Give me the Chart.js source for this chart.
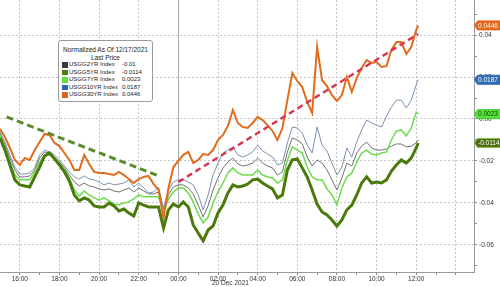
<!DOCTYPE html>
<html><head><meta charset="utf-8">
<script src="https://cdn.jsdelivr.net/npm/chart.js@4.4.0/dist/chart.umd.min.js"></script>
<style>
html,body{margin:0;padding:0;background:#fff;}
#wrap{position:relative;width:500px;height:287px;overflow:hidden;font-family:"Liberation Sans",Arial,sans-serif;}
canvas{position:absolute;left:0;top:0;}
#legend{position:absolute;left:58px;top:40px;width:95px;height:62px;box-sizing:border-box;border:1px solid #9a9a9a;border-radius:3px;background:#fff;font-size:6.5px;color:#222;padding-top:5px;line-height:7.5px;}
#legend .t{text-align:center;white-space:nowrap;}
#legend .row{position:relative;height:7.5px;white-space:nowrap;font-size:6px;}
#legend .sw{position:absolute;left:3px;top:1px;width:5.5px;height:5.5px;}
#legend .nm{position:absolute;left:10px;top:0;}
#legend .vl{position:absolute;left:63px;top:0;}
#date{position:absolute;left:212px;top:279px;font-size:6.5px;color:#333;line-height:8px;white-space:nowrap;}
</style></head>
<body>
<div id="wrap">
<canvas id="c" width="500" height="287"></canvas>
<div id="legend"></div>
<div id="date">20 Dec 2021</div>
</div>
<script>
// ---- data ----
const times = [
"15:00","15:15","15:30","15:45","16:00","16:15","16:30","16:45",
"17:00","17:15","17:30","17:45","18:00","18:15","18:30","18:45",
"19:00","19:15","19:30","19:45","20:00","20:15","20:30","20:45",
"21:00","21:15","21:30","21:45","22:00","22:15","22:30","22:45",
"23:00","23:15","23:30","23:45","00:00","00:15","00:30","00:45",
"01:00","01:15","01:30","01:45","02:00","02:15","02:30","02:45",
"03:00","03:15","03:30","03:45","04:00","04:15","04:30","04:45",
"05:00","05:15","05:30","05:45","06:00","06:15","06:30","06:45",
"07:00","07:15","07:30","07:45","08:00","08:15","08:30","08:45",
"09:00","09:15","09:30","09:45","10:00","10:15","10:30","10:45",
"11:00","11:15","11:30","11:45","12:00","12:06"];

const usgg2yr = [
-0.0067,-0.0124,-0.0186,-0.0243, -0.0276,-0.0276,-0.0271,-0.0243,
-0.0186,-0.0157,-0.0162,-0.0181, -0.0205,-0.0233,-0.0267,-0.0300,
-0.0319,-0.0305,-0.0319,-0.0324, -0.0333,-0.0338,-0.0333,-0.0343,
-0.0348,-0.0338,-0.0329,-0.0348, -0.0329,-0.0343,-0.0357,-0.0357,
-0.0348,-0.0433,-0.0362,-0.0324, -0.0314,-0.0314,-0.0329,-0.0357,
-0.0410,-0.0467,-0.0414,-0.0338, -0.0281,-0.0233,-0.0205,-0.0186,
-0.0214,-0.0224,-0.0219,-0.0210, -0.0186,-0.0210,-0.0224,-0.0233,
-0.0267,-0.0252,-0.0157,-0.0090, -0.0100,-0.0119,-0.0181,-0.0224,
-0.0195,-0.0210,-0.0243,-0.0290, -0.0338,-0.0281,-0.0210,-0.0224,
-0.0162,-0.0129,-0.0110,-0.0138, -0.0148,-0.0148,-0.0143,-0.0129,
-0.0119,-0.0119,-0.0133,-0.0129, -0.0114,-0.0100];

const usgg5yr = [
-0.0090,-0.0148,-0.0219,-0.0290, -0.0314,-0.0319,-0.0324,-0.0276,
-0.0229,-0.0176,-0.0162,-0.0190, -0.0219,-0.0252,-0.0295,-0.0362,
-0.0390,-0.0376,-0.0386,-0.0414, -0.0419,-0.0419,-0.0400,-0.0414,
-0.0438,-0.0429,-0.0448,-0.0462, -0.0400,-0.0410,-0.0419,-0.0419,
-0.0419,-0.0519,-0.0433,-0.0405, -0.0419,-0.0395,-0.0419,-0.0505,
-0.0543,-0.0581,-0.0529,-0.0510, -0.0448,-0.0410,-0.0352,-0.0314,
-0.0324,-0.0319,-0.0310,-0.0290, -0.0286,-0.0305,-0.0319,-0.0333,
-0.0376,-0.0362,-0.0243,-0.0195, -0.0190,-0.0233,-0.0276,-0.0338,
-0.0405,-0.0443,-0.0457,-0.0481, -0.0510,-0.0481,-0.0433,-0.0410,
-0.0362,-0.0305,-0.0276,-0.0305, -0.0300,-0.0305,-0.0290,-0.0248,
-0.0219,-0.0195,-0.0210,-0.0186, -0.0138,-0.0114];

const usgg7yr = [
-0.0076,-0.0138,-0.0205,-0.0267, -0.0290,-0.0290,-0.0290,-0.0252,
-0.0205,-0.0171,-0.0171,-0.0186, -0.0214,-0.0243,-0.0281,-0.0338,
-0.0367,-0.0343,-0.0362,-0.0376, -0.0386,-0.0376,-0.0390,-0.0405,
-0.0410,-0.0400,-0.0395,-0.0381, -0.0362,-0.0371,-0.0371,-0.0371,
-0.0371,-0.0443,-0.0381,-0.0348, -0.0329,-0.0329,-0.0352,-0.0395,
-0.0452,-0.0495,-0.0467,-0.0400, -0.0348,-0.0305,-0.0257,-0.0233,
-0.0257,-0.0267,-0.0267,-0.0267, -0.0243,-0.0267,-0.0276,-0.0281,
-0.0305,-0.0290,-0.0195,-0.0133, -0.0148,-0.0162,-0.0229,-0.0276,
-0.0290,-0.0290,-0.0333,-0.0362, -0.0410,-0.0329,-0.0276,-0.0257,
-0.0205,-0.0162,-0.0148,-0.0167, -0.0171,-0.0162,-0.0157,-0.0100,
-0.0057,-0.0052,-0.0081,-0.0043, 0.0033,0.0023];

const usgg10yr = [
-0.0062,-0.0110,-0.0171,-0.0229, -0.0262,-0.0262,-0.0257,-0.0233,
-0.0171,-0.0148,-0.0157,-0.0171, -0.0195,-0.0224,-0.0252,-0.0276,
-0.0286,-0.0271,-0.0286,-0.0290, -0.0300,-0.0314,-0.0305,-0.0314,
-0.0310,-0.0305,-0.0290,-0.0324, -0.0305,-0.0329,-0.0352,-0.0348,
-0.0324,-0.0424,-0.0338,-0.0300, -0.0290,-0.0290,-0.0300,-0.0314,
-0.0362,-0.0433,-0.0362,-0.0267, -0.0210,-0.0162,-0.0148,-0.0133,
-0.0171,-0.0181,-0.0171,-0.0157, -0.0124,-0.0152,-0.0167,-0.0181,
-0.0219,-0.0210,-0.0114,-0.0038, -0.0043,-0.0067,-0.0124,-0.0162,
-0.0038,-0.0124,-0.0152,-0.0210, -0.0267,-0.0229,-0.0138,-0.0181,
-0.0110,-0.0052,-0.0005,-0.0019, -0.0029,-0.0038,0.0014,0.0057,
0.0090,0.0090,0.0052,0.0090, 0.0162,0.0187];

const usgg30yr = [
-0.0048,-0.0086,-0.0138,-0.0195, -0.0219,-0.0186,-0.0195,-0.0148,
-0.0110,-0.0071,-0.0076,-0.0114, -0.0129,-0.0162,-0.0195,-0.0243,
-0.0243,-0.0171,-0.0214,-0.0252, -0.0257,-0.0257,-0.0262,-0.0267,
-0.0252,-0.0267,-0.0286,-0.0305, -0.0286,-0.0276,-0.0271,-0.0310,
-0.0338,-0.0471,-0.0329,-0.0229, -0.0200,-0.0171,-0.0157,-0.0210,
-0.0195,-0.0167,-0.0171,-0.0148, -0.0100,-0.0076,-0.0033,0.0043,
-0.0019,-0.0038,-0.0043,-0.0019, 0.0010,-0.0005,-0.0029,-0.0057,
-0.0100,-0.0043,0.0090,0.0219, 0.0181,0.0152,0.0081,0.0029,
0.0343,0.0186,0.0157,0.0114, 0.0086,0.0114,0.0200,0.0129,
0.0195,0.0243,0.0281,0.0267, 0.0271,0.0248,0.0252,0.0329,
0.0367,0.0367,0.0310,0.0343, 0.0424,0.0446];

// trend lines
const downTrendTimes = ["15:20","23:00"];
const downTrendValues = [0.0010,-0.0271];
const upTrendTimes = ["00:00","12:06"];
const upTrendValues = [-0.0300,0.0405];

// legend
const legendTitle = ["Normalized As Of 12/17/2021","Last Price"];
const legendNames = ["USGG2YR Index","USGG5YR Index","USGG7YR Index","USGG10YR Index","USGG30YR Index"];
const legendValues = ["-0.01","-0.0114","0.0023","0.0187","0.0446"];
const legendSwatches = ["#3b3b3b","#4f7a19","#5fe03c","#2f66aa","#d9661f"];

// axis
const dayBreak = "00:00";
const startTime = "15:00";
const xMaxMinutes = 1435;
const yMin = -0.0729, yMax = 0.0567;

// ---- build ----
const toMin = t => { const [h,m] = t.split(':').map(Number); const s = startTime.split(':').map(Number); return ((h*60+m) - (s[0]*60+s[1]) + 1440) % 1440; };
const pts = arr => times.map((t,i)=>({x:toMin(t), y:arr[i]}));

const lg = document.getElementById('legend');
legendTitle.forEach(t=>{ const d=document.createElement('div'); d.className='t'; d.textContent=t; lg.appendChild(d); });
legendNames.forEach((n,i)=>{
  const r=document.createElement('div'); r.className='row';
  r.innerHTML='<span class="sw" style="background:'+legendSwatches[i]+'"></span><span class="nm"></span><span class="vl"></span>';
  r.querySelector('.nm').textContent=n; r.querySelector('.vl').textContent=legendValues[i];
  lg.appendChild(r);
});

const tags = [
  {data:usgg30yr, bg:'#e2691f', fg:'#fff2e8', border:'#e2691f'},
  {data:usgg10yr, bg:'#2d6cb0', fg:'#ffffff', border:'#2d6cb0'},
  {data:usgg7yr, bg:'#58e63c', fg:'#143000', border:'#3fbf2a'},
  {data:usgg5yr, bg:'#4d6d12', fg:'#ffffff', border:'#8fc04a'}
];

const dayLinePlugin = {
  id:'dayLine',
  beforeDatasetsDraw(chart){
    const {ctx, chartArea, scales} = chart;
    const x = Math.round(scales.x.getPixelForValue(toMin(dayBreak)))+0.5;
    ctx.save(); ctx.strokeStyle='#a8a8a8'; ctx.lineWidth=1;
    ctx.beginPath(); ctx.moveTo(x, chartArea.top); ctx.lineTo(x, chartArea.bottom); ctx.stroke(); ctx.restore();
  }
};
const tagPlugin = {
  id:'tags',
  afterDraw(chart){
    const {ctx, chartArea, scales} = chart;
    const x0 = chartArea.right;
    tags.forEach(tg=>{
      const v = tg.data[tg.data.length-1];
      const y = scales.y.getPixelForValue(v);
      const h = 9;
      ctx.save();
      ctx.beginPath();
      ctx.moveTo(x0+0.5, y);
      ctx.lineTo(x0+3.5, y-h/2);
      ctx.lineTo(x0+40, y-h/2);
      ctx.lineTo(x0+40, y+h/2);
      ctx.lineTo(x0+3.5, y+h/2);
      ctx.closePath();
      ctx.fillStyle=tg.bg; ctx.fill();
      ctx.strokeStyle=tg.border; ctx.lineWidth=1; ctx.stroke();
      ctx.fillStyle=tg.fg; ctx.font='6.5px "Liberation Sans", Arial, sans-serif';
      ctx.textBaseline='middle'; ctx.textAlign='left';
      ctx.fillText(String(v), x0+4, y+0.5);
      ctx.restore();
    });
  }
};

const line = (label, arr, color, width, order) => ({label, data:pts(arr), borderColor:color, borderWidth:width, pointRadius:0, tension:0, fill:false, order});

new Chart(document.getElementById('c'), {
  type:'line',
  data:{datasets:[
    {label:'down trend', data:downTrendTimes.map((t,i)=>({x:toMin(t),y:downTrendValues[i]})), borderColor:'#5a8c2e', borderWidth:3, borderDash:[7,4], pointRadius:0, order:-1},
    {label:'up trend', data:upTrendTimes.map((t,i)=>({x:toMin(t),y:upTrendValues[i]})), borderColor:'#d9344f', borderWidth:2.5, borderDash:[6,4], pointRadius:0, order:-1},
    line('USGG30YR Index', usgg30yr, '#e06c1c', 2, 0),
    line('USGG5YR Index', usgg5yr, '#4b7a0c', 3, 1),
    line('USGG7YR Index', usgg7yr, '#6bdc4a', 1.5, 2),
    line('USGG10YR Index', usgg10yr, '#7a92b0', 1, 3),
    line('USGG2YR Index', usgg2yr, '#707070', 1, 4)
  ]},
  options:{
    responsive:false, animation:false, devicePixelRatio:1,
    layout:{padding:0, autoPadding:false},
    plugins:{legend:{display:false}, tooltip:{enabled:false}},
    scales:{
      x:{
        type:'linear', min:0, max:xMaxMinutes,
        afterBuildTicks(s){ const t=[]; for(let m=60;m<=1380;m+=60) t.push({value:m}); s.ticks=t; },
        afterFit(s){ s.height=15; s.paddingLeft=0; s.paddingRight=0; },
        ticks:{autoSkip:false, maxRotation:0, padding:0, color:'#333', font:{family:'"Liberation Sans", Arial, sans-serif', size:6.5},
          callback(v){ const k=v/60; if(k%2!==1 || v===1380) return ''; const h=(15+k)%24; return String(h).padStart(2,'0')+':00'; }},
        grid:{color:c=>{ const v=c.tick&&c.tick.value; return (v/60)%2===1 && v!==toMin(dayBreak) ? '#c4c4c4':'transparent'; }, tickColor:'#8a8a8a', tickLength:3, lineWidth:1},
        border:{display:true, color:'#9a9a9a', dash:[2,2]}
      },
      y:{
        position:'right', min:yMin, max:yMax,
        afterBuildTicks(s){ const t=[]; for(let k=-7;k<=5;k++) t.push({value:k/100}); s.ticks=t; },
        afterFit(s){ s.width=26; s.paddingTop=0; s.paddingBottom=0; },
        ticks:{padding:2, color:'#333', font:{family:'"Liberation Sans", Arial, sans-serif', size:6.5},
          callback(v){ const k=Math.round(v*100); return k%2===0 ? (k/100).toFixed(2) : ''; }},
        grid:{color:c=>{ const k=Math.round(c.tick.value*100); return k%2===0 ? '#c4c4c4':'transparent'; }, tickColor:'#8a8a8a', tickLength:3, lineWidth:1},
        border:{display:true, color:'#9a9a9a', dash:[2,2]}
      }
    }
  },
  plugins:[dayLinePlugin, tagPlugin]
});
</script>
</body></html>
